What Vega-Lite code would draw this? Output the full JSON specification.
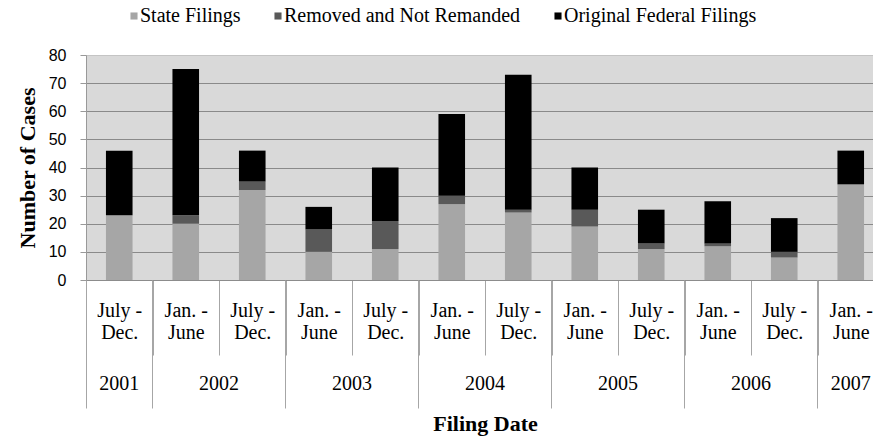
{
  "$schema": "https://vega.github.io/schema/vega-lite/v6.json",
  "width": 787,
  "height": 225,
  "autosize": {"type": "none"},
  "padding": {"left": 86, "top": 55, "right": 0, "bottom": 157},
  "background": "white",
  "config": {
    "view": {"fill": "#d9d9d9", "stroke": null},
    "axis": {"labelFont": "Liberation Serif", "titleFont": "Liberation Serif", "labelColor": "black", "titleColor": "black"}
  },
  "data": {
    "values": [
      {"period": "July - Dec. 2001", "type": "State Filings", "count": 23},
      {"period": "July - Dec. 2001", "type": "Removed and Not Remanded", "count": 0},
      {"period": "July - Dec. 2001", "type": "Original Federal Filings", "count": 23},
      {"period": "Jan. - June 2002", "type": "State Filings", "count": 20},
      {"period": "Jan. - June 2002", "type": "Removed and Not Remanded", "count": 3},
      {"period": "Jan. - June 2002", "type": "Original Federal Filings", "count": 52},
      {"period": "July - Dec. 2002", "type": "State Filings", "count": 32},
      {"period": "July - Dec. 2002", "type": "Removed and Not Remanded", "count": 3},
      {"period": "July - Dec. 2002", "type": "Original Federal Filings", "count": 11},
      {"period": "Jan. - June 2003", "type": "State Filings", "count": 10},
      {"period": "Jan. - June 2003", "type": "Removed and Not Remanded", "count": 8},
      {"period": "Jan. - June 2003", "type": "Original Federal Filings", "count": 8},
      {"period": "July - Dec. 2003", "type": "State Filings", "count": 11},
      {"period": "July - Dec. 2003", "type": "Removed and Not Remanded", "count": 10},
      {"period": "July - Dec. 2003", "type": "Original Federal Filings", "count": 19},
      {"period": "Jan. - June 2004", "type": "State Filings", "count": 27},
      {"period": "Jan. - June 2004", "type": "Removed and Not Remanded", "count": 3},
      {"period": "Jan. - June 2004", "type": "Original Federal Filings", "count": 29},
      {"period": "July - Dec. 2004", "type": "State Filings", "count": 24},
      {"period": "July - Dec. 2004", "type": "Removed and Not Remanded", "count": 1},
      {"period": "July - Dec. 2004", "type": "Original Federal Filings", "count": 48},
      {"period": "Jan. - June 2005", "type": "State Filings", "count": 19},
      {"period": "Jan. - June 2005", "type": "Removed and Not Remanded", "count": 6},
      {"period": "Jan. - June 2005", "type": "Original Federal Filings", "count": 15},
      {"period": "July - Dec. 2005", "type": "State Filings", "count": 11},
      {"period": "July - Dec. 2005", "type": "Removed and Not Remanded", "count": 2},
      {"period": "July - Dec. 2005", "type": "Original Federal Filings", "count": 12},
      {"period": "Jan. - June 2006", "type": "State Filings", "count": 12},
      {"period": "Jan. - June 2006", "type": "Removed and Not Remanded", "count": 1},
      {"period": "Jan. - June 2006", "type": "Original Federal Filings", "count": 15},
      {"period": "July - Dec. 2006", "type": "State Filings", "count": 8},
      {"period": "July - Dec. 2006", "type": "Removed and Not Remanded", "count": 2},
      {"period": "July - Dec. 2006", "type": "Original Federal Filings", "count": 12},
      {"period": "Jan. - June 2007", "type": "State Filings", "count": 34},
      {"period": "Jan. - June 2007", "type": "Removed and Not Remanded", "count": 0},
      {"period": "Jan. - June 2007", "type": "Original Federal Filings", "count": 12}
    ]
  },
  "transform": [
    {"calculate": "indexof(['State Filings','Removed and Not Remanded','Original Federal Filings'], datum.type)", "as": "stackOrder"}
  ],
  "layer": [
    {
      "mark": {"type": "bar", "width": {"band": 0.4}},
      "encoding": {
        "x": {
          "field": "period", "type": "nominal",
          "scale": {"domain": ["July - Dec. 2001","Jan. - June 2002","July - Dec. 2002","Jan. - June 2003","July - Dec. 2003","Jan. - June 2004","July - Dec. 2004","Jan. - June 2005","July - Dec. 2005","Jan. - June 2006","July - Dec. 2006","Jan. - June 2007"], "range": [0, 798], "paddingInner": 0, "paddingOuter": 0},
          "axis": {
            "orient": "bottom", "title": null, "tickBand": "extent", "tickSize": 75, "tickColor": "#a6a6a6",
            "domainColor": "#8c8c8c", "labelAngle": 0, "labelOverlap": false,
            "labelExpr": "isValid(datum.value) ? [split(datum.value,' ')[0] + ' -', split(datum.value,' ')[2]] : ''",
            "labelFont": "Liberation Serif", "labelColor": "black",
            "labelFontSize": 20, "labelLineHeight": 22, "labelBaseline": "top", "labelPadding": -55
          }
        },
        "y": {
          "field": "count", "type": "quantitative", "stack": "zero",
          "scale": {"domain": [0, 80], "nice": false},
          "axis": {
            "title": "Number of Cases", "titleFont": "Liberation Serif", "titleFontSize": 22, "titleFontWeight": "bold", "titlePadding": 9,
            "labelFont": "Liberation Sans", "labelFontSize": 16, "labelPadding": 14, "labelColor": "black",
            "tickSize": 6, "tickColor": "#999999", "domainColor": "#999999",
            "values": [0,10,20,30,40,50,60,70,80], "grid": true,
            "gridColor": {"condition": {"test": "datum.value === 80", "value": "#c4c4c4"}, "value": "#8a8a8a"}
          }
        },
        "color": {
          "field": "type", "type": "nominal",
          "scale": {"domain": ["State Filings","Removed and Not Remanded","Original Federal Filings"], "range": ["#a6a6a6","#595959","#000000"]},
          "legend": {
            "orient": "none", "legendX": 38, "legendY": -49, "direction": "horizontal", "title": null,
            "symbolType": "square", "symbolSize": 50, "symbolStrokeWidth": 0,
            "labelFont": "Liberation Serif", "labelFontSize": 20, "labelColor": "black", "labelLimit": 400,
            "columnPadding": 27, "labelOffset": -4
          }
        },
        "order": {"field": "stackOrder", "type": "quantitative"}
      }
    },
    {
      "mark": {"type": "point", "opacity": 0},
      "encoding": {
        "x": {
          "field": "period", "type": "nominal",
          "axis": {
            "orient": "bottom", "values": ["July - Dec. 2001","Jan. - June 2002","Jan. - June 2003","Jan. - June 2004","Jan. - June 2005","Jan. - June 2006","Jan. - June 2007"],
            "bandPosition": 0, "tickSize": 128, "tickColor": "#a6a6a6", "labels": false, "domain": false,
            "title": "Filing Date", "titleFont": "Liberation Serif", "titleColor": "black", "titleFontSize": 22, "titleFontWeight": "bold", "titlePadding": 5
          }
        }
      }
    },
    {
      "mark": {"type": "point", "opacity": 0},
      "encoding": {
        "x": {
          "field": "period", "type": "nominal",
          "axis": {
            "orient": "bottom", "values": ["July - Dec. 2002","July - Dec. 2003","July - Dec. 2004","July - Dec. 2005","July - Dec. 2006"],
            "ticks": false, "domain": false, "title": null, "labelAngle": 0, "labelOverlap": false, "labelOffset": -33.25,
            "labelFont": "Liberation Serif", "labelColor": "black",
            "labelExpr": "split(datum.value,' ')[3]", "labelFontSize": 20, "labelBaseline": "top", "labelPadding": 93
          }
        }
      }
    },
    {
      "mark": {"type": "point", "opacity": 0},
      "encoding": {
        "x": {
          "field": "period", "type": "nominal",
          "axis": {
            "orient": "bottom", "values": ["July - Dec. 2001","Jan. - June 2007"],
            "ticks": false, "domain": false, "title": null, "labelAngle": 0, "labelOverlap": false,
            "labelFont": "Liberation Serif", "labelColor": "black",
            "labelExpr": "split(datum.value,' ')[3]", "labelFontSize": 20, "labelBaseline": "top", "labelPadding": 93
          }
        }
      }
    }
  ],
  "resolve": {"axis": {"x": "independent"}}
}
